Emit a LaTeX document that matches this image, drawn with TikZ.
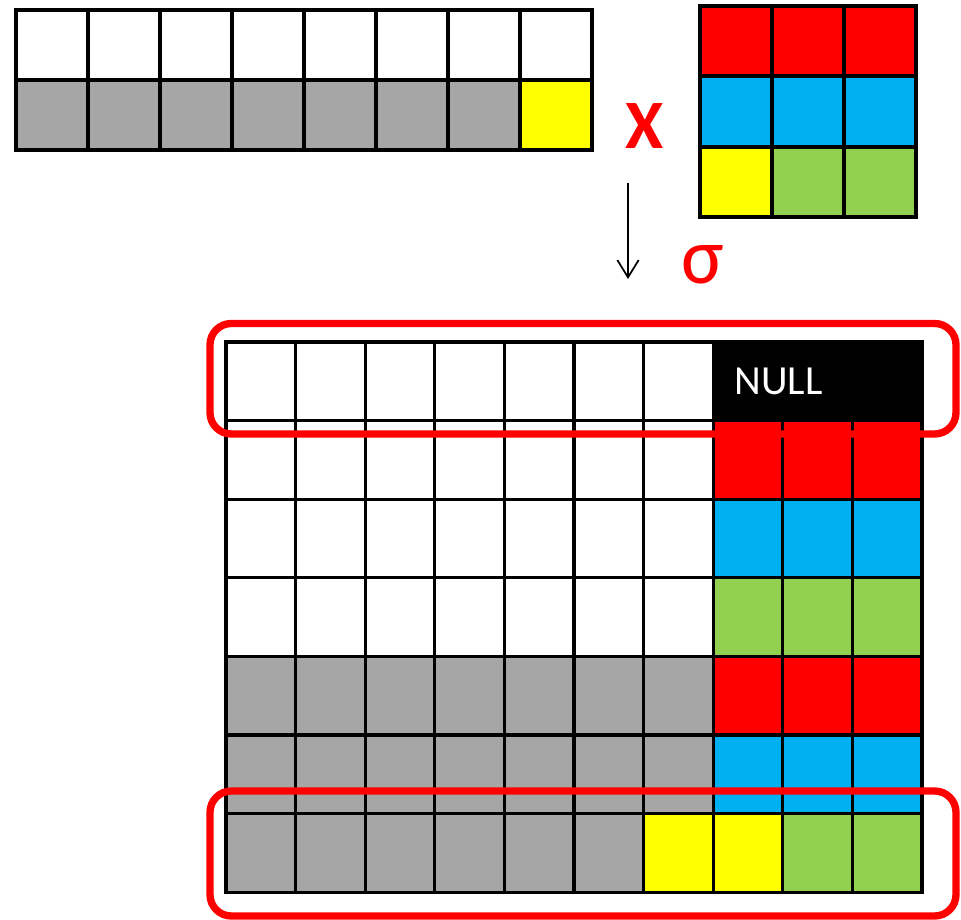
\documentclass[tikz,border=0pt]{standalone}
\usepackage{fontspec}
\setmainfont{Carlito}
\usetikzlibrary{arrows.meta,positioning}
\definecolor{cgray}{HTML}{A6A6A6}
\definecolor{cred}{HTML}{FF0000}
\definecolor{cblue}{HTML}{00B0F0}
\definecolor{cgreen}{HTML}{92D050}
\definecolor{cyellow}{HTML}{FFFF00}

\begin{document}
\begin{tikzpicture}[x=0.75pt,y=-0.75pt,
  cell/.style={draw=black,line width=3pt},
  bigcell/.style={draw=black,line width=2.5pt},
  redbox/.style={draw=cred,line width=5.5pt,rounded corners=16pt},
  edge/.style={-{Straight Barb[length=13pt,width=16pt]},line width=1.3pt}]
\useasboundingbox (0,0) rectangle (961,920);

% input row pair
\foreach \i in {0,...,7} {
  \draw[cell,fill=white] ({16+72*\i},10) rectangle ++(72,70);
  \ifnum\i=7
    \draw[cell,fill=cyellow] ({16+72*\i},80) rectangle ++(72,70);
  \else
    \draw[cell,fill=cgray] ({16+72*\i},80) rectangle ++(72,70);
  \fi
}

% 3x3 block
\foreach \i in {0,1,2} {
  \draw[cell,fill=cred] ({700+72*\i},6) rectangle ++(72,70.5);
  \draw[cell,fill=cblue] ({700+72*\i},76.5) rectangle ++(72,70.5);
}
\draw[cell,fill=cyellow] (700,147) rectangle ++(72,70.5);
\draw[cell,fill=cgreen] (772,147) rectangle ++(72,70.5);
\draw[cell,fill=cgreen] (844,147) rectangle ++(72,70.5);

\node[text=cred,font=\fontsize{52}{52}\selectfont\bfseries] (times) at (645,126) {X};
\coordinate (arrtop) at (628,183);
\coordinate (arrbot) at (628,279);
\draw[edge] (arrtop) -- (arrbot);
\node[text=cred,font=\fontsize{60}{60}\selectfont,anchor=base] (sigma) at (703,283) {σ};

% result grid
\foreach \r in {0,...,6} {
  \foreach \c in {0,...,6} {
    \ifnum\r<4
      \draw[bigcell,fill=white] ({226+69.6*\c},{342+78.6*\r}) rectangle ++(69.6,78.6);
    \else
      \draw[bigcell,fill=cgray] ({226+69.6*\c},{342+78.6*\r}) rectangle ++(69.6,78.6);
    \fi
  }
}
\foreach \r/\col in {1/cred,2/cblue,3/cgreen,4/cred,5/cblue} {
  \foreach \c in {7,8,9} {
    \draw[bigcell,fill=\col] ({226+69.6*\c},{342+78.6*\r}) rectangle ++(69.6,78.6);
  }
}
\draw[bigcell,fill=cyellow] ({226+69.6*6},{342+78.6*6}) rectangle ++(69.6,78.6);
\draw[bigcell,fill=cyellow] ({226+69.6*7},{342+78.6*6}) rectangle ++(69.6,78.6);
\draw[bigcell,fill=cgreen] ({226+69.6*8},{342+78.6*6}) rectangle ++(69.6,78.6);
\draw[bigcell,fill=cgreen] ({226+69.6*9},{342+78.6*6}) rectangle ++(69.6,78.6);
\draw[bigcell,fill=black] ({226+69.6*7},342) rectangle (922,420.6);
\node[text=white,font=\fontsize{31}{31}\selectfont,anchor=west] (null) at (730,381) {NULL};

% highlighted rows
\draw[redbox] (210,323.5) rectangle (956,434);
\draw[redbox] (210,791) rectangle (956,916);
\end{tikzpicture}
\end{document}
